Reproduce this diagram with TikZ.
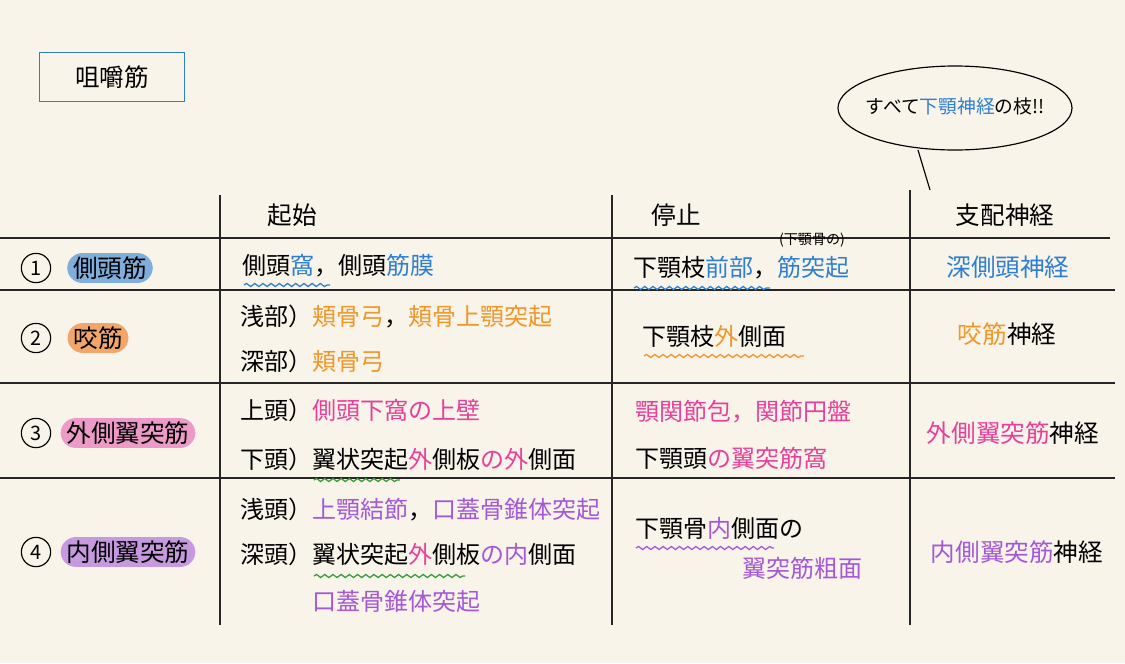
\documentclass[tikz,border=0pt]{standalone}
\usepackage{fontspec}
\setmainfont{Noto Sans CJK JP}
\usetikzlibrary{decorations.pathmorphing,shapes.geometric}
\definecolor{bg}{HTML}{F8F4E9}
\definecolor{bl}{HTML}{2F7FD0}
\definecolor{blf}{HTML}{7FAEDD}
\definecolor{og}{HTML}{F0962A}
\definecolor{ogf}{HTML}{F2A66A}
\definecolor{pk}{HTML}{E8409A}
\definecolor{pkf}{HTML}{EE9AC8}
\definecolor{pu}{HTML}{A458D8}
\definecolor{puf}{HTML}{C79AE0}
\definecolor{gr}{HTML}{3A9A3A}
\tikzset{
 rule/.style={line width=1.4pt,black!85},
 txt/.style={font=\fontsize{20.5}{22}\selectfont,anchor=west,inner sep=0},
 hd/.style={font=\fontsize{21}{23}\selectfont,inner sep=0},
 pill/.style={rounded corners=13pt,inner xsep=5pt,inner ysep=3pt,font=\fontsize{21}{23}\selectfont},
 num/.style={circle,draw,line width=1pt,inner sep=1pt,minimum size=25pt,font=\fontsize{17}{18}\selectfont},
 wav/.style={decorate,decoration={snake,amplitude=1.3pt,segment length=7pt},line width=1.1pt}
}
\begin{document}
\begin{tikzpicture}[x=0.03cm,y=-0.03cm]
\fill[bg] (0,0) rectangle (1125,663);
\useasboundingbox (0,0) rectangle (1125,663);
% title
\node[draw=bl,line width=1.6pt,minimum width=145*0.03cm,minimum height=49*0.03cm,font=\fontsize{21}{23}\selectfont] (title) at (112,77) {咀嚼筋};
% callout
\draw[line width=1pt] (955,108) ellipse [x radius=117, y radius=42];
\node[font=\fontsize{16}{18}\selectfont] (call) at (955,106) {すべて\textcolor{bl}{下顎神経}の枝!!};
\coordinate (tail) at (930,190);
\draw[line width=1pt] (918,150) -- (tail);
% grid
\draw[rule] (0,238) -- (1110,238);
\draw[rule] (0,290) -- (1115,290);
\draw[rule] (0,383) -- (1115,383);
\draw[rule] (0,478) -- (1115,478);
\draw[rule] (220,195) -- (220,625);
\draw[rule] (612,195) -- (612,625);
\draw[rule] (910,190) -- (910,625);
% headers
\node[hd] (h1) at (292,215) {起始};
\node[hd] (h2) at (676,215) {停止};
\node[hd] (h3) at (1005,215) {支配神経};
% row 1
\node[num] (n1) at (36,268) {1};
\node[pill,fill=blf] (m1) at (110,268) {側頭筋};
\node[txt] (o1) at (242,266) {側頭\textcolor{bl}{窩}，側頭\textcolor{bl}{筋膜}};
\draw[wav,bl] (244,285) -- (330,285);
\node[txt] (i1) at (633,268) {下顎枝\textcolor{bl}{前部}，\textcolor{bl}{筋突起}};
\draw[wav,bl] (634,288) -- (770,288);
\node[font=\fontsize{12}{14}\selectfont] (i1s) at (812,240) {(下顎骨の)};
\node[hd,text=bl] (v1) at (1008,267) {深側頭神経};
% row 2
\node[num] (n2) at (36,338) {2};
\node[pill,fill=ogf] (m2) at (98,338) {咬筋};
\node[txt] (o2a) at (240,316) {浅部）\textcolor{og}{頬骨弓}，\textcolor{og}{頬骨上顎突起}};
\node[txt] (o2b) at (240,361) {深部）\textcolor{og}{頬骨弓}};
\node[txt] (i2) at (642,336) {下顎枝\textcolor{og}{外}側面};
\draw[wav,og] (644,356) -- (804,356);
\node[hd] (v2) at (1007,334) {\textcolor{og}{咬筋}神経};
% row 3
\node[num] (n3) at (36,433) {3};
\node[pill,fill=pkf] (m3) at (128,433) {外側翼突筋};
\node[txt] (o3a) at (240,410) {上頭）\textcolor{pk}{側頭下窩の上壁}};
\node[txt] (o3b) at (240,459) {下頭）翼状突起\textcolor{pk}{外}側板\textcolor{pk}{の}\textcolor{pk}{外}側面};
\draw[wav,gr] (314,480) -- (400,480);
\node[txt,text=pk] (i3a) at (635,412) {顎関節包，関節円盤};
\node[txt] (i3b) at (635,458) {下顎頭\textcolor{pk}{の翼突筋窩}};
\node[hd] (v3) at (1013,433) {\textcolor{pk}{外側翼突筋}神経};
% row 4
\node[num] (n4) at (36,552) {4};
\node[pill,fill=puf] (m4) at (128,552) {内側翼突筋};
\node[txt] (o4a) at (240,509) {浅頭）\textcolor{pu}{上顎結節}，\textcolor{pu}{口蓋骨錐体突起}};
\node[txt] (o4b) at (240,554) {深頭）翼状突起\textcolor{pk}{外}側板\textcolor{pu}{の内}側面};
\draw[wav,gr] (314,576) -- (465,576);
\node[txt,text=pu] (o4c) at (312,601) {口蓋骨錐体突起};
\node[txt] (i4a) at (635,528) {下顎骨\textcolor{pu}{内}側面の};
\draw[wav,pu] (636,548) -- (774,548);
\node[txt,text=pu] (i4b) at (742,568) {翼突筋粗面};
\node[hd] (v4) at (1017,552) {\textcolor{pu}{内側翼突筋}神経};
\end{tikzpicture}
\end{document}
